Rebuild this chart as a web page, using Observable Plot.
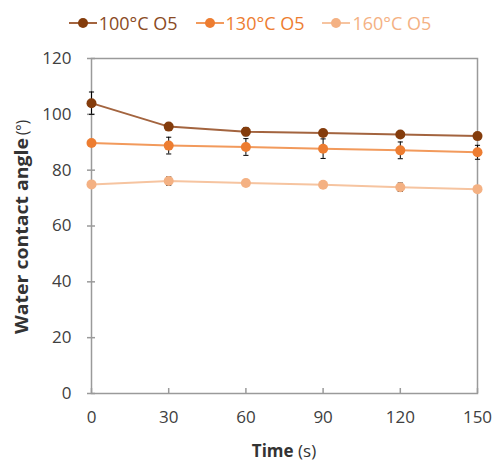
<!DOCTYPE html>
<html><head><meta charset="utf-8">
<script src="https://cdn.jsdelivr.net/npm/d3@7"></script>
<script src="https://cdn.jsdelivr.net/npm/@observablehq/plot@0.6"></script>
<style>
body{margin:0;background:#fff;font-family:"Open Sans",sans-serif;}
#legend{height:40px;display:flex;align-items:center;justify-content:center;padding-left:4px;padding-top:5px;box-sizing:border-box;font-size:18px;}
.item{display:flex;align-items:center;margin:0 9px;}
.item svg{margin-right:2px;}
</style></head><body>
<div id="legend"></div><div id="chart"></div>
<script>
const times=[0,30,60,90,120,150];
const seriesNames=["100°C O5","130°C O5","160°C O5"];
const angle100=[104,95.6,93.8,93.3,92.8,92.2];
const angle130=[89.7,88.8,88.3,87.7,87.1,86.4];
const angle160=[74.9,76.1,75.4,74.8,73.9,73.2];
const err100=[4,1,1.5,1,1,1];
const err130=[1,3,3,3.5,3,2.5];
const err160=[1,1.5,1,1,1.5,1];
const yTicks=[0,20,40,60,80,100,120];
const xTicks=[0,30,60,90,120,150];
const colors=["#843c0c","#ed7d31","#f4b183"];
const lineColors=["#a3643f","#f29a5c","#f6c4a0"];
const textColors=["#8a4a24","#ed7d31","#f4b183"];

const values=[angle100,angle130,angle160];
const errors=[err100,err130,err160];
const rows=[];
seriesNames.forEach((s,i)=>times.forEach((t,j)=>rows.push({series:s,idx:i,t,v:values[i][j],e:errors[i][j]})));

// legend
const leg=document.getElementById("legend");
seriesNames.forEach((s,i)=>{
  const it=document.createElement("div");it.className="item";
  it.innerHTML=`<svg width="28" height="12"><line x1="0" y1="6" x2="28" y2="6" stroke="${lineColors[i]}" stroke-width="2"/><circle cx="14" cy="6" r="5" fill="${colors[i]}"/></svg><span style="color:${textColors[i]}">${s}</span>`;
  leg.appendChild(it);
});

const marks=[
  Plot.frame({stroke:"#9a9a9a",strokeWidth:1.5}),
  Plot.axisY({ticks:yTicks,tickSize:0,tickPadding:20,label:null}),
  Plot.axisY({ticks:yTicks,tickSize:4,text:null,label:null,stroke:"#9a9a9a",strokeWidth:1.5}),
  Plot.axisY({ticks:yTicks,tickSize:-4,text:null,label:null,stroke:"#9a9a9a",strokeWidth:1.5}),
  Plot.axisX({ticks:xTicks,tickSize:0,tickPadding:17,label:null}),
  Plot.axisX({ticks:xTicks,tickSize:-5,text:null,label:null,stroke:"#9a9a9a",strokeWidth:1.5})
];
seriesNames.forEach((s,i)=>{
  marks.push(Plot.line(rows.filter(d=>d.idx===i),{x:"t",y:"v",stroke:lineColors[i],strokeWidth:2}));
});
marks.push(Plot.ruleX(rows,{x:"t",y1:d=>d.v-d.e,y2:d=>d.v+d.e,stroke:"#000",strokeWidth:1}));
marks.push(Plot.link(rows,{x1:d=>d.t-1,x2:d=>d.t+1,y1:d=>d.v+d.e,y2:d=>d.v+d.e,stroke:"#000",strokeWidth:1}));
marks.push(Plot.link(rows,{x1:d=>d.t-1,x2:d=>d.t+1,y1:d=>d.v-d.e,y2:d=>d.v-d.e,stroke:"#000",strokeWidth:1}));
seriesNames.forEach((s,i)=>{
  marks.push(Plot.dot(rows.filter(d=>d.idx===i),{x:"t",y:"v",r:5,fill:colors[i]}));
});

const chart=Plot.plot({
  width:496,height:422,
  marginLeft:91,marginRight:19,marginTop:18,marginBottom:69,
  x:{domain:[0,150]},
  y:{domain:[0,120]},
  style:{fontFamily:"Open Sans",fontSize:"17px",color:"#404040",background:"#fff"},
  marks
});
document.getElementById("chart").appendChild(chart);
const svg=d3.select(chart);
const yl=svg.append("text").attr("transform","translate(23,187) rotate(-90)").attr("text-anchor","middle")
  .attr("dominant-baseline","middle").attr("fill","#333").style("font-size","17px");
yl.append("tspan").attr("font-weight","bold").attr("textLength",196).attr("lengthAdjust","spacingAndGlyphs").text("Water contact angle");
yl.append("tspan").attr("dx",3).attr("textLength",15).attr("lengthAdjust","spacingAndGlyphs").text("(°)");
const xl=svg.append("text").attr("x",284).attr("y",412).attr("text-anchor","middle")
  .attr("dominant-baseline","middle").attr("fill","#333").style("font-size","17px");
xl.append("tspan").attr("font-weight","bold").text("Time");
xl.append("tspan").text(" (s)");
</script>
</body></html>
